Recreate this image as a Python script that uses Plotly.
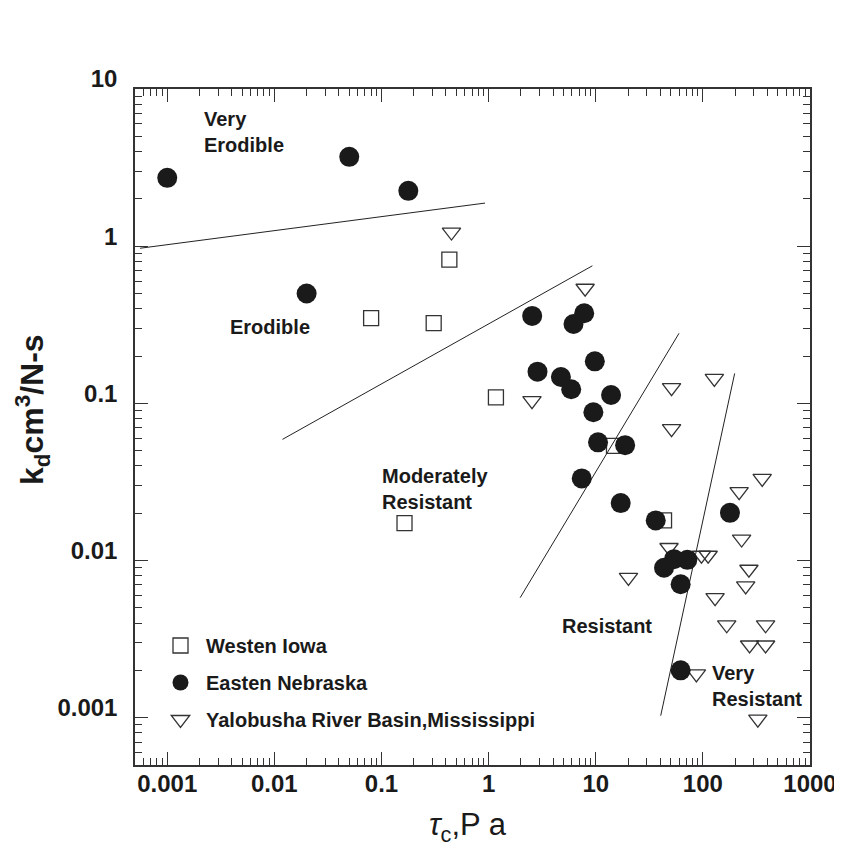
import plotly.graph_objects as go
import math

# ---------------- data ----------------
iowa_tau = [0.43, 0.080, 0.307, 1.17, 14.8, 43.4, 0.164]
iowa_kd = [0.82, 0.348, 0.324, 0.109, 0.0537, 0.018, 0.0173]

nebraska_tau = [0.001, 0.050, 0.178, 0.020, 2.55, 7.8, 6.2, 2.86, 9.8, 4.73, 5.9, 13.9,
                9.5, 10.5, 18.8, 7.4, 17.1, 36.3, 179, 43.4, 53.8, 71.6, 62, 62]
nebraska_kd = [2.72, 3.7, 2.25, 0.50, 0.36, 0.374, 0.32, 0.159, 0.185, 0.147, 0.123, 0.113,
               0.0877, 0.0565, 0.0542, 0.0333, 0.0232, 0.018, 0.0201, 0.0090, 0.0102, 0.0101,
               0.00706, 0.0020]

yalo_tau = [0.45, 7.96, 2.54, 51, 128, 51, 358, 218, 230, 48.3, 97, 112, 20.2, 269, 251,
            130, 167, 385, 273, 385, 87, 326]
yalo_kd = [1.23, 0.54, 0.104, 0.126, 0.144, 0.069, 0.0333, 0.0274, 0.0137, 0.0121, 0.0108,
           0.0108, 0.0078, 0.0088, 0.0069, 0.0058, 0.0039, 0.0039, 0.0029, 0.0029, 0.0019,
           0.00098]

# boundary lines between erodibility classes (end points)
line1_tau = [0.000556, 0.925]
line1_kd = [0.97, 1.88]
line2_tau = [0.0119, 9.3]
line2_kd = [0.059, 0.75]
line3_tau = [1.97, 59.9]
line3_kd = [0.0058, 0.279]
line4_tau = [40.4, 198]
line4_kd = [0.00103, 0.155]

x_ticks = [0.001, 0.01, 0.1, 1, 10, 100, 1000]
x_ticktext = ["0.001", "0.01", "0.1", "1", "10", "100", "1000"]
y_ticks = [0.001, 0.01, 0.1, 1, 10]
y_ticktext = ["0.001", "0.01", "0.1", "1", "10"]

FONT = "Liberation Sans, Arial, sans-serif"
TXT = "#1a1a1a"

fig = go.Figure()

for lx, ly in [(line1_tau, line1_kd), (line2_tau, line2_kd),
               (line3_tau, line3_kd), (line4_tau, line4_kd)]:
    fig.add_trace(go.Scatter(x=lx, y=ly, mode="lines", showlegend=False,
                             line=dict(color="#222222", width=1), hoverinfo="skip"))

fig.add_trace(go.Scatter(
    x=iowa_tau, y=iowa_kd, mode="markers", name="Westen Iowa", legendgroup="a",
    legendrank=1,
    marker=dict(symbol="square-open", size=15, color="#333333", line=dict(width=1.3))))
fig.add_trace(go.Scatter(
    x=yalo_tau, y=yalo_kd, mode="markers", name="Yalobusha River Basin,Mississippi",
    legendgroup="c", legendrank=3,
    marker=dict(symbol="triangle-down-open", size=16, color="#333333", line=dict(width=1.3))))
fig.add_trace(go.Scatter(
    x=nebraska_tau, y=nebraska_kd, mode="markers", name="Easten Nebraska", legendgroup="b",
    legendrank=2,
    marker=dict(symbol="circle", size=20, color="#1a1a1a", line=dict(width=0))))

minor_x = [m * 10 ** e for e in range(-4, 4) for m in range(2, 10)]
minor_y = [m * 10 ** e for e in range(-4, 2) for m in range(2, 10)]

axis_common = dict(
    type="log", showgrid=False, zeroline=False, showline=True, linecolor="#333333",
    linewidth=1.5, mirror="allticks", ticks="inside", ticklen=13, tickwidth=1.2,
    tickcolor="#333333", automargin=False,
    tickfont=dict(family=FONT, size=24, color=TXT, weight="bold"),
)

fig.update_xaxes(
    **axis_common, range=[math.log10(0.0005), 3], tickmode="array",
    tickvals=x_ticks, ticktext=x_ticktext, ticklabelstandoff=-4,
    minor=dict(ticks="inside", ticklen=7, tickwidth=1, tickcolor="#333333",
               tickmode="array", tickvals=minor_x, showgrid=False),
)
fig.update_yaxes(
    **axis_common, range=[math.log10(0.0005), 1], tickmode="array",
    tickvals=y_ticks, ticktext=y_ticktext, ticklabelstandoff=11, ticklabelshift=-10,
    minor=dict(ticks="inside", ticklen=7, tickwidth=1, tickcolor="#333333",
               tickmode="array", tickvals=minor_y, showgrid=False),
)

# the page body has an 8 px margin, so the figure is drawn 8 px smaller
# and all paper positions are measured within the 675 x 676 plot area
def P(px, py):
    return (px - 135) / 675, (765 - py) / 676

ann = []
labels = [
    ("Very<br>Erodible", 202, 131.5),
    ("Erodible", 228, 327),
    ("Moderately<br>Resistant", 380, 488.5),
    ("Resistant", 560, 626),
    ("Very<br>Resistant", 710, 685.5),
]
for t, px, py in labels:
    xp, yp = P(px, py)
    ann.append(dict(text=t, x=xp, y=yp, xref="paper", yref="paper", xanchor="left",
                    yanchor="middle", align="left", showarrow=False,
                    font=dict(family=FONT, size=20, color=TXT, weight="bold")))

xp, yp = P(32, 410)
ann.append(dict(text="k<sub>d</sub>cm<sup>3</sup>/N-s", x=xp, y=yp, xref="paper", yref="paper",
                textangle=-90, showarrow=False, xanchor="center", yanchor="middle",
                font=dict(family=FONT, size=32, color=TXT, weight="bold")))
xp, yp = P(468, 827)
ann.append(dict(text="<i>τ</i><sub>c</sub>,P a", x=xp, y=yp, xref="paper", yref="paper",
                showarrow=False, xanchor="center", yanchor="middle",
                font=dict(family=FONT, size=31, color=TXT)))

lx, ly = P(155, 626)
fig.update_layout(
    width=834, height=840,
    margin=dict(l=127, r=32, t=81, b=83, autoexpand=False),
    paper_bgcolor="white", plot_bgcolor="white",
    annotations=ann,
    showlegend=True,
    legend=dict(x=lx, y=ly, xanchor="left", yanchor="top", bgcolor="rgba(0,0,0,0)",
                font=dict(family=FONT, size=20, color=TXT, weight="bold"),
                tracegroupgap=8, itemsizing="trace", itemwidth=41),
)

fig.write_html("out.html")
